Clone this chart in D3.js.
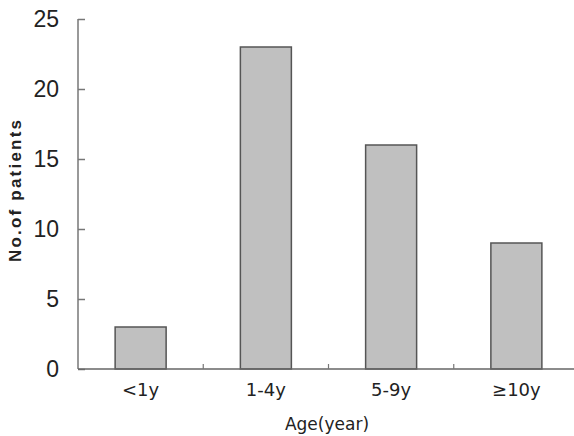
<!DOCTYPE html>
<html><head><meta charset="utf-8">
<script src="https://cdn.jsdelivr.net/npm/d3@7"></script>
<style>body{margin:0;background:#fff}svg{display:block}</style>
</head><body>
<script>
const categories = ["<1y", "1-4y", "5-9y", "\u226510y"];
const values = [3, 23, 16, 9];
const yTicks = [0, 5, 10, 15, 20, 25];

const W = 574, H = 436;
const svg = d3.select("body").append("svg").attr("width", W).attr("height", H);
const x = d3.scaleBand().domain(categories).range([78, 579]).paddingInner(0).paddingOuter(0);
const y = d3.scaleLinear().domain([0, 25]).range([369, 19]);
const bw = 51;

// bars
svg.selectAll("rect.bar").data(values).enter().append("rect")
  .attr("x", (d, i) => x(categories[i]) + x.bandwidth() / 2 - bw / 2)
  .attr("y", d => y(d))
  .attr("width", bw)
  .attr("height", d => y(0) - y(d))
  .attr("fill", "#c0c0c0")
  .attr("stroke", "#555")
  .attr("stroke-width", 1.5);

// y axis
const ya = svg.append("g").attr("transform", "translate(78,0)")
  .call(d3.axisRight(y).tickValues(yTicks).tickSize(7).tickFormat(""));
ya.select(".domain").attr("stroke", "#777").attr("stroke-width", 1.5).attr("d", "M0," + y(25) + "V" + y(0));
ya.selectAll(".tick line").attr("stroke", "#777").attr("stroke-width", 1.5);
svg.selectAll("text.ytl").data(yTicks).enter().append("text")
  .attr("x", 59).attr("y", d => y(d)).attr("dy", "0.36em")
  .attr("text-anchor", "end")
  .attr("font-family", "Liberation Sans, Arial, sans-serif")
  .attr("font-size", 23).attr("fill", "#222")
  .text(d => d);

// x axis
const xa = svg.append("g").attr("transform", "translate(0,369)")
  .call(d3.axisTop(x).tickSize(0).tickFormat(""));
xa.select(".domain").attr("stroke", "#666").attr("stroke-width", 1.5).attr("d", "M78,0H579");
xa.selectAll(".tick").remove();
svg.selectAll("line.xt").data(categories.slice(1)).enter().append("line")
  .attr("x1", d => x(d)).attr("x2", d => x(d))
  .attr("y1", 369).attr("y2", 364)
  .attr("stroke", "#777").attr("stroke-width", 1.2);
svg.selectAll("text.xtl").data(categories).enter().append("text")
  .attr("x", d => x(d) + x.bandwidth() / 2).attr("y", 396)
  .attr("text-anchor", "middle")
  .attr("font-family", "DejaVu Sans, sans-serif")
  .attr("font-size", 18).attr("fill", "#222")
  .text(d => d);

// axis titles
svg.append("text").attr("x", 327).attr("y", 430)
  .attr("text-anchor", "middle")
  .attr("font-family", "DejaVu Sans, sans-serif")
  .attr("font-size", 17).attr("fill", "#222")
  .text("Age(year)");
svg.append("text")
  .attr("transform", "translate(21,191) rotate(-90)")
  .attr("text-anchor", "middle")
  .attr("font-family", "Liberation Sans, Arial, sans-serif")
  .attr("font-size", 17).attr("font-weight", "bold").attr("fill", "#222")
  .attr("textLength", 142).attr("lengthAdjust", "spacing")
  .text("No.of patients");
</script>
</body></html>
